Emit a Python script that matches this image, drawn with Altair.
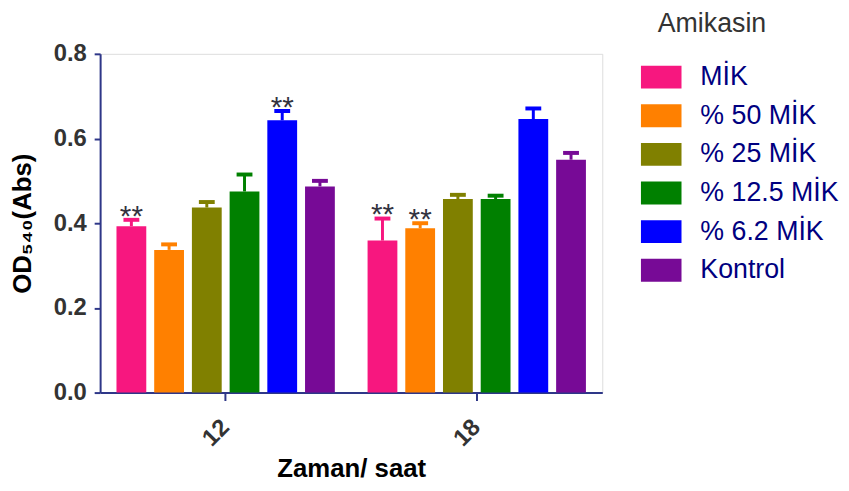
import altair as alt
import pandas as pd

times = ["12", "18"]
groups = ["MİK", "% 50 MİK", "% 25 MİK", "% 12.5 MİK", "% 6.2 MİK", "Kontrol"]
colors = ["#F7177F", "#FF8000", "#808000", "#008000", "#0000FF", "#770A96"]
means_12 = [0.393, 0.337, 0.437, 0.475, 0.643, 0.487]
errs_12 = [0.015, 0.013, 0.013, 0.040, 0.022, 0.013]
means_18 = [0.359, 0.388, 0.457, 0.457, 0.646, 0.550]
errs_18 = [0.052, 0.012, 0.010, 0.008, 0.025, 0.016]
stars_12 = ["**", "", "", "", "**", ""]
stars_18 = ["**", "**", "", "", "", ""]

rows = []
for t, means, errs, stars in [("12", means_12, errs_12, stars_12), ("18", means_18, errs_18, stars_18)]:
    for g, m, e, s in zip(groups, means, errs, stars):
        rows.append({"time": t, "group": g, "mean": m, "top": m + e, "star": s})
df = pd.DataFrame(rows)

FONT = "Liberation Sans"
AXC = "#2E3788"

x_enc = alt.X("time:N", scale=alt.Scale(domain=times, paddingInner=0, paddingOuter=0),
              axis=alt.Axis(title="Zaman/ saat", labelAngle=-45, labelFontSize=24, labelFontWeight="bold",
                            labelColor="#333333", labelFont=FONT, titleFont=FONT, titleFontSize=26,
                            titleFontWeight="bold", titleColor="#000000", domainColor=AXC, domainWidth=2,
                            tickColor=AXC, tickWidth=2, tickSize=8, labelPadding=23, titlePadding=5,
                            labelAlign="right", labelBaseline="middle"))
xo_enc = alt.XOffset("group:N", scale=alt.Scale(domain=groups, paddingInner=0.21, paddingOuter=0.434))
color_enc = alt.Color("group:N", scale=alt.Scale(domain=groups, range=colors),
                      legend=alt.Legend(orient="none", legendX=547, legendY=4, title=None,
                                        symbolType="M-1.05,-0.59L1.05,-0.59L1.05,0.59L-1.05,0.59Z",
                                        symbolSize=1521, symbolStrokeWidth=0, symbolOpacity=1,
                                        labelFontSize=27, labelFont=FONT, labelColor="#000080",
                                        labelOffset=20, rowPadding=6, padding=0, labelLimit=300))

y_scale = alt.Scale(domain=[0, 0.8], nice=False)
y_axis = alt.Axis(title="OD₅₄₀(Abs)", values=[0, 0.2, 0.4, 0.6, 0.8], format=".1f", labelFontSize=24,
                  labelFontWeight="bold", labelColor="#333333", labelFont=FONT, titleFont=FONT,
                  titleFontSize=26, titleFontWeight="bold", titleColor="#000000", domainColor=AXC,
                  domainWidth=2, tickColor=AXC, tickWidth=2, tickSize=6, labelPadding=8, grid=False,
                  titlePadding=18)

base = alt.Chart(df).encode(x=x_enc, xOffset=xo_enc)
cscale = alt.Scale(domain=groups, range=colors)

bars = base.mark_bar(strokeWidth=0).encode(
    y=alt.Y("mean:Q", scale=y_scale, axis=y_axis), color=color_enc)
stems = base.mark_rule(strokeWidth=3).encode(
    y="mean:Q", y2="top:Q", color=alt.Color("group:N", scale=cscale, legend=None))
caps = base.mark_tick(size=16, thickness=4, opacity=1).encode(
    y="top:Q", color=alt.Color("group:N", scale=cscale, legend=None))
stars = base.mark_text(fontSize=30, font=FONT, color="#333340", baseline="alphabetic", dy=6).encode(
    y="top:Q", text="star:N")

title_txt = alt.Chart(pd.DataFrame({"t": ["Amikasin"]})).mark_text(
    fontSize=27, font=FONT, color="#333333", align="left", baseline="middle").encode(
    x=alt.value(563), y=alt.value(-30), text="t:N")

chart = alt.layer(bars, stems, caps, stars, title_txt).properties(
    width=507, height=342,
    autosize=alt.AutoSizeParams(type="none"),
    padding={"left": 93, "top": 44, "right": 241, "bottom": 89}
).configure_view(stroke=None).configure(background="white")

chart.save("out.html", embed_options={"renderer": "svg", "actions": False})
